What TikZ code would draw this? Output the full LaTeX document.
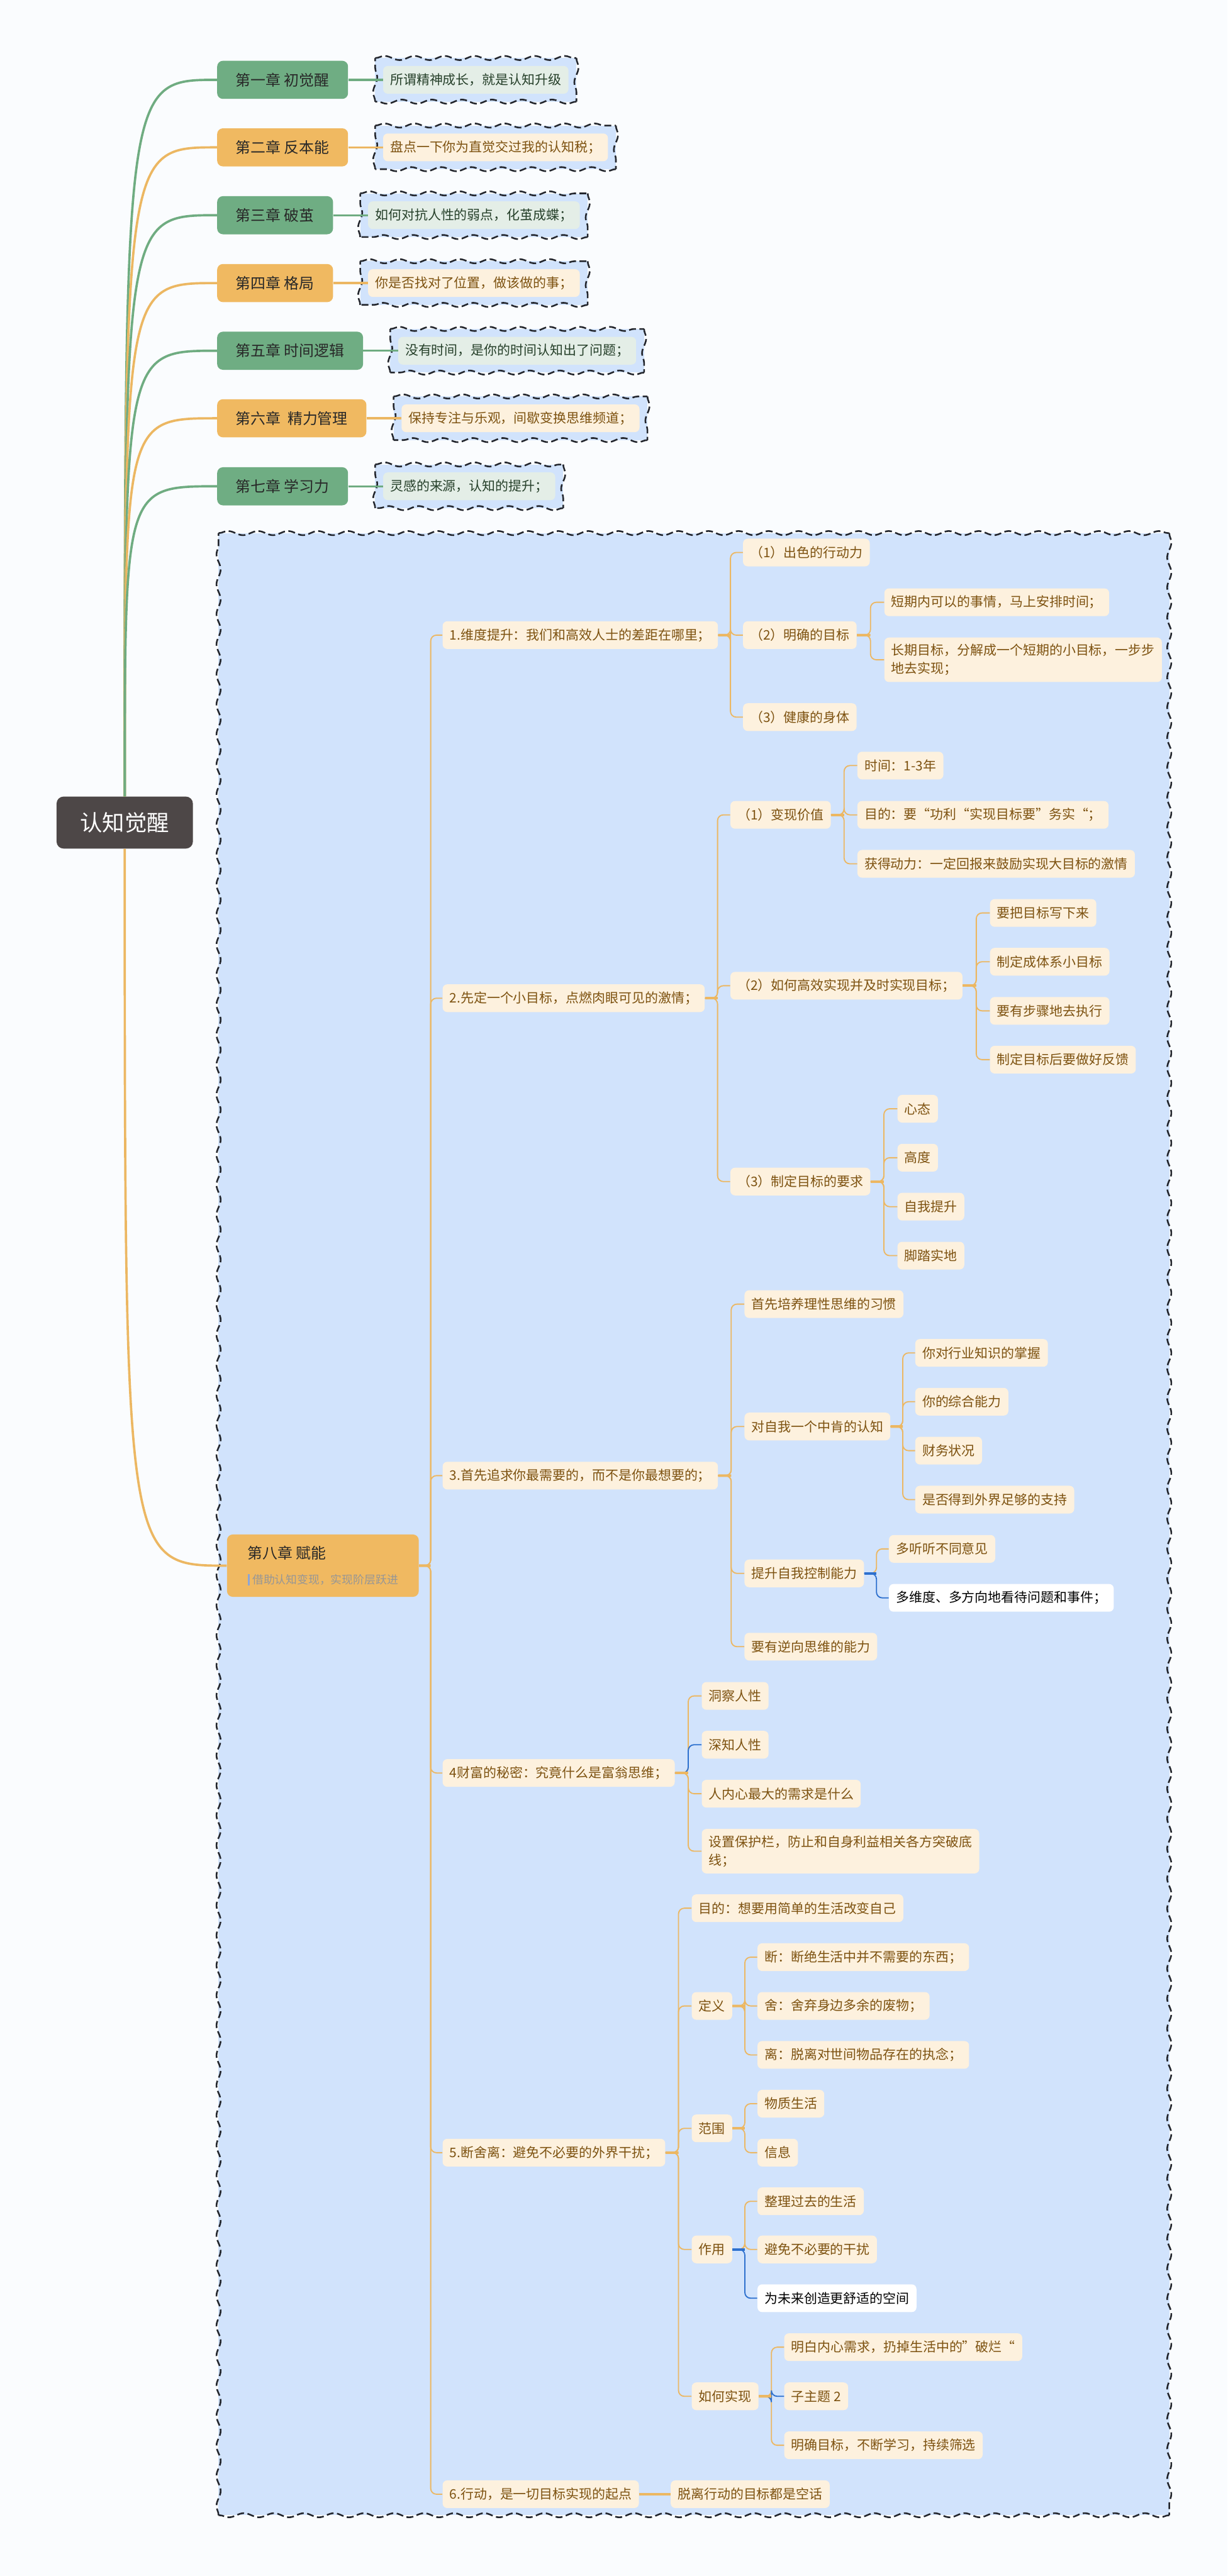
\documentclass[tikz,border=0pt]{standalone}
\usepackage{fontspec}
\setmainfont{Noto Sans CJK SC}
\usetikzlibrary{
  positioning,
  calc,
  backgrounds,
  decorations.pathmorphing
}
\definecolor{pagecolor}{RGB}{250,252,254}
\definecolor{rootcolor}{RGB}{77,71,71}
\definecolor{greencolor}{RGB}{111,173,131}
\definecolor{orangecolor}{RGB}{240,185,97}
\definecolor{greenline}{RGB}{111,172,129}
\definecolor{orangeline}{RGB}{236,183,98}
\definecolor{bluecolor}{RGB}{45,112,206}
\definecolor{areacolor}{RGB}{209,227,252}
\definecolor{topiccolor}{RGB}{253,241,222}
\definecolor{topictext}{RGB}{125,82,16}
\definecolor{greennote}{RGB}{228,238,231}
\definecolor{greentext}{RGB}{38,64,42}
\definecolor{chaptertext}{RGB}{40,40,40}
\definecolor{subtext}{RGB}{150,150,150}
\definecolor{subbar}{RGB}{140,165,215}
\definecolor{wavecolor}{RGB}{35,38,45}
\tikzset{
rootbox/.style={
  rounded corners=6pt,
  fill=rootcolor,
  text=white,
  minimum width=118pt,
  minimum height=45pt,
  font=\fontsize{19.3}{23}\selectfont
},
chapterbox/.style={
  rounded corners=5pt,
  minimum height=33pt,
  inner xsep=16.2pt,
  anchor=west,
  text=chaptertext,
  font=\fontsize{13}{16}\selectfont
},
greenchapter/.style={
  chapterbox,
  fill=greencolor
},
orangechapter/.style={
  chapterbox,
  fill=orangecolor
},
topic/.style={
  rounded corners=4pt,
  fill=topiccolor,
  text=topictext,
  minimum height=24pt,
  inner xsep=6.1pt,
  anchor=west,
  align=left,
  font=\fontsize{11.4}{15.6}\selectfont
},
twoline/.style={
  minimum height=38.5pt
},
plaintopic/.style={
  topic,
  fill=white,
  text=black
},
greennotebox/.style={
  topic,
  fill=greennote,
  text=greentext
},
orangenotebox/.style={
  topic
},
wavefill/.style={
  fill=areacolor
},
waveline/.style={
  draw=wavecolor,
  line width=1.4pt,
  dash pattern=on 6pt off 3pt,
  decorate,
  decoration={snake, segment length=26pt, amplitude=1.8pt}
},
rootline/.style={
  line width=2pt
},
noteline/.style={
  line width=1.8pt
},
branch/.style={
  draw=orangeline,
  line width=1pt,
  rounded corners=5pt
},
bluebranch/.style={
  branch,
  draw=bluecolor
},
stub/.style={
  draw=orangeline,
  line width=2.2pt
},
bluestub/.style={
  stub,
  draw=bluecolor
}
}

\begin{document}
\begin{tikzpicture}[x=0.05cm, y=-0.05cm]
  \useasboundingbox (0,0) rectangle (747,1568);

  % Root
  \node[rootbox] (root) at (75.9,500.7) {认知觉醒};

  % Chapters 1-7
  \node[greenchapter]  (ch1) at (132,48.6)  {第一章 初觉醒};
  \node[orangechapter] (ch2) at (132,89.7)  {第二章 反本能};
  \node[greenchapter]  (ch3) at (132,131)   {第三章 破茧};
  \node[orangechapter] (ch4) at (132,172.3) {第四章 格局};
  \node[greenchapter]  (ch5) at (132,213.5) {第五章 时间逻辑};
  \node[orangechapter] (ch6) at (132,254.6) {第六章\ \ 精力管理};
  \node[greenchapter]  (ch7) at (132,296)   {第七章 学习力};

  % Notes
  \node[greennotebox, right=30pt of ch1]  (n1) {所谓精神成长，就是认知升级};
  \node[orangenotebox, right=30pt of ch2] (n2) {盘点一下你为直觉交过我的认知税；};
  \node[greennotebox, right=30pt of ch3]  (n3) {如何对抗人性的弱点，化茧成蝶；};
  \node[orangenotebox, right=30pt of ch4] (n4) {你是否找对了位置，做该做的事；};
  \node[greennotebox, right=30pt of ch5]  (n5) {没有时间，是你的时间认知出了问题；};
  \node[orangenotebox, right=30pt of ch6] (n6) {保持专注与乐观，间歇变换思维频道；};
  \node[greennotebox, right=30pt of ch7]  (n7) {灵感的来源，认知的提升；};

  % Chapter 8
  \node[orangechapter, align=left, minimum width=166pt, minimum height=54pt, inner xsep=11.4pt] (ch8) at (138,953)
    {第八章 赋能\\[6pt]{\fontsize{9.7}{12}\selectfont\color{subtext}{\color{subbar}\rule[-1.5pt]{2pt}{10pt}}\ 借助认知变现，实现阶层跃进}};

  % Item 1
  \node[topic] (i1)   at (269.2,386.6) {1.维度提升：我们和高效人士的差距在哪里；};
  \node[topic] (i1a)  at (452,336.3)   {（1）出色的行动力};
  \node[topic] (i1b)  at (452,386.6)   {（2）明确的目标};
  \node[topic] (i1c)  at (452,436.5)   {（3）健康的身体};
  \node[topic] (i1b1) at (538,366.6)   {短期内可以的事情，马上安排时间；};
  \node[topic, twoline] (i1b2) at (538,401.6) {长期目标，分解成一个短期的小目标，一步步\\地去实现；};

  % Item 2
  \node[topic] (i2)   at (269.2,607.6) {2.先定一个小目标，点燃肉眼可见的激情；};
  \node[topic] (i2a)  at (444.3,496)   {（1）变现价值};
  \node[topic] (i2b)  at (444.3,600)   {（2）如何高效实现并及时实现目标；};
  \node[topic] (i2c)  at (444.3,719.2) {（3）制定目标的要求};
  \node[topic] (i2a1) at (521.6,466)   {时间：1-3年};
  \node[topic] (i2a2) at (521.6,496)   {目的：要“功利“实现目标要”务实“；};
  \node[topic] (i2a3) at (521.6,525.8) {获得动力：一定回报来鼓励实现大目标的激情};
  \node[topic] (i2b1) at (602.3,555.7) {要把目标写下来};
  \node[topic] (i2b2) at (602.3,585.4) {制定成体系小目标};
  \node[topic] (i2b3) at (602.3,615.3) {要有步骤地去执行};
  \node[topic] (i2b4) at (602.3,645)   {制定目标后要做好反馈};
  \node[topic] (i2c1) at (546,674.9)   {心态};
  \node[topic] (i2c2) at (546,704.7)   {高度};
  \node[topic] (i2c3) at (546,734.5)   {自我提升};
  \node[topic] (i2c4) at (546,764.3)   {脚踏实地};

  % Item 3
  \node[topic] (i3)   at (269.2,898.2) {3.首先追求你最需要的，而不是你最想要的；};
  \node[topic] (i3a)  at (452.9,793.8) {首先培养理性思维的习惯};
  \node[topic] (i3b)  at (452.9,868.3) {对自我一个中肯的认知};
  \node[topic] (i3c)  at (452.9,957.7) {提升自我控制能力};
  \node[topic] (i3d)  at (452.9,1002.3) {要有逆向思维的能力};
  \node[topic] (i3b1) at (556.8,823.5) {你对行业知识的掌握};
  \node[topic] (i3b2) at (556.8,853.2) {你的综合能力};
  \node[topic] (i3b3) at (556.8,883)   {财务状况};
  \node[topic] (i3b4) at (556.8,912.8) {是否得到外界足够的支持};
  \node[topic] (i3c1) at (540.8,942.8) {多听听不同意见};
  \node[plaintopic] (i3c2) at (540.8,972.6) {多维度、多方向地看待问题和事件；};

  % Item 4
  \node[topic] (i4)   at (269.2,1079.2) {4财富的秘密：究竟什么是富翁思维；};
  \node[topic] (i4a)  at (426.9,1032.3) {洞察人性};
  \node[topic] (i4b)  at (426.9,1062)   {深知人性};
  \node[topic] (i4c)  at (426.9,1091.8) {人内心最大的需求是什么};
  \node[topic, twoline] (i4d) at (426.9,1126.8) {设置保护栏，防止和自身利益相关各方突破底\\线；};

  % Item 5
  \node[topic] (i5)   at (269.2,1310.3) {5.断舍离：避免不必要的外界干扰；};
  \node[topic] (i5a)  at (420.8,1161.5) {目的：想要用简单的生活改变自己};
  \node[topic] (i5b)  at (420.8,1221)   {定义};
  \node[topic] (i5c)  at (420.8,1295.5) {范围};
  \node[topic] (i5d)  at (420.8,1369.2) {作用};
  \node[topic] (i5e)  at (420.8,1458.6) {如何实现};
  \node[topic] (i5b1) at (460.8,1191.3) {断：断绝生活中并不需要的东西；};
  \node[topic] (i5b2) at (460.8,1221)   {舍：舍弃身边多余的废物；};
  \node[topic] (i5b3) at (460.8,1250.8) {离：脱离对世间物品存在的执念；};
  \node[topic] (i5c1) at (460.8,1280.5) {物质生活};
  \node[topic] (i5c2) at (460.8,1310.3) {信息};
  \node[topic] (i5d1) at (460.8,1339.9) {整理过去的生活};
  \node[topic] (i5d2) at (460.8,1369.2) {避免不必要的干扰};
  \node[plaintopic] (i5d3) at (460.8,1398.9) {为未来创造更舒适的空间};
  \node[topic] (i5e1) at (477.1,1428.7) {明白内心需求，扔掉生活中的”破烂“};
  \node[topic] (i5e2) at (477.1,1458.6) {子主题 2};
  \node[topic] (i5e3) at (477.1,1488.4) {明确目标，不断学习，持续筛选};

  % Item 6
  \node[topic] (i6)   at (269.2,1518.2) {6.行动，是一切目标实现的起点};
  \node[topic] (i6a)  at (408,1518.2)   {脱离行动的目标都是空话};

  % Root connectors
  \foreach \c/\col in {ch1/greenline, ch2/orangeline, ch3/greenline, ch4/orangeline, ch5/greenline, ch6/orangeline, ch7/greenline}
    \draw[rootline, draw=\col] (root.north) .. controls (root.north |- \c.west) .. (\c.west);
  \draw[rootline, draw=orangeline] (root.south) .. controls (root.south |- ch8.west) .. (ch8.west);

  % Chapter to note
  \foreach \i/\col in {1/greenline, 2/orangeline, 3/greenline, 4/orangeline, 5/greenline, 6/orangeline, 7/greenline}
    \draw[noteline, draw=\col] (ch\i.east) -- (n\i.west);

  % Branches inside the area
  \foreach \p/\c in {ch8/i1, ch8/i2, ch8/i3, ch8/i4, ch8/i5, ch8/i6,
                     i1/i1a, i1/i1b, i1/i1c, i1b/i1b1, i1b/i1b2,
                     i2/i2a, i2/i2b, i2/i2c, i2a/i2a1, i2a/i2a2, i2a/i2a3,
                     i2b/i2b1, i2b/i2b2, i2b/i2b3, i2b/i2b4,
                     i2c/i2c1, i2c/i2c2, i2c/i2c3, i2c/i2c4,
                     i3/i3a, i3/i3b, i3/i3c, i3/i3d,
                     i3b/i3b1, i3b/i3b2, i3b/i3b3, i3b/i3b4, i3c/i3c1,
                     i4/i4a, i4/i4c, i4/i4d,
                     i5/i5a, i5/i5b, i5/i5c, i5/i5d, i5/i5e,
                     i5b/i5b1, i5b/i5b2, i5b/i5b3, i5c/i5c1, i5c/i5c2,
                     i5d/i5d1, i5d/i5d2, i5e/i5e1, i5e/i5e3}
    \draw[branch] (\p.east) -- ($(\p.east)!.5!(\c.west |- \p.east)$) |- (\c.west);
  \foreach \p/\c in {i3c/i3c2, i4/i4b, i5d/i5d3, i5e/i5e2}
    \draw[bluebranch] (\p.east) -- ($(\p.east)!.5!(\c.west |- \p.east)$) |- (\c.west);

  % Stubs
  \foreach \p/\c in {ch8/i1, i1/i1a, i1b/i1b1, i2/i2a, i2a/i2a1, i2b/i2b1, i2c/i2c1,
                     i3/i3a, i3b/i3b1, i4/i4a, i5/i5a, i5b/i5b1, i5c/i5c1, i5e/i5e1}
    \draw[stub] (\p.east) -- ($(\p.east)!.5!(\c.west |- \p.east)$);
  \foreach \p/\c in {i3c/i3c1, i5d/i5d1}
    \draw[bluestub] (\p.east) -- ($(\p.east)!.5!(\c.west |- \p.east)$);
  \draw[stub] (i6.east) -- (i6a.west);

  % Background, area and wavy note frames
  \begin{scope}[on background layer]
    \fill[pagecolor] (0,0) rectangle (747,1568);
    \coordinate (wa0) at (133,324.5);
    \coordinate (wb0) at (711.5,1531);
    \foreach \i in {1,...,7} {
      \coordinate (wa\i) at ($(n\i.north west)+(-4.7,-4.7)$);
      \coordinate (wb\i) at ($(n\i.south east)+(4.7,4.7)$);
    }
    \foreach \i in {0,...,7} {
      \fill[wavefill] (wa\i) rectangle (wb\i);
      \draw[waveline] (wa\i) -- (wa\i -| wb\i);
      \draw[waveline] (wa\i -| wb\i) -- (wb\i);
      \draw[waveline] (wb\i) -- (wb\i -| wa\i);
      \draw[waveline] (wb\i -| wa\i) -- (wa\i);
    }
  \end{scope}
\end{tikzpicture}
\end{document}
